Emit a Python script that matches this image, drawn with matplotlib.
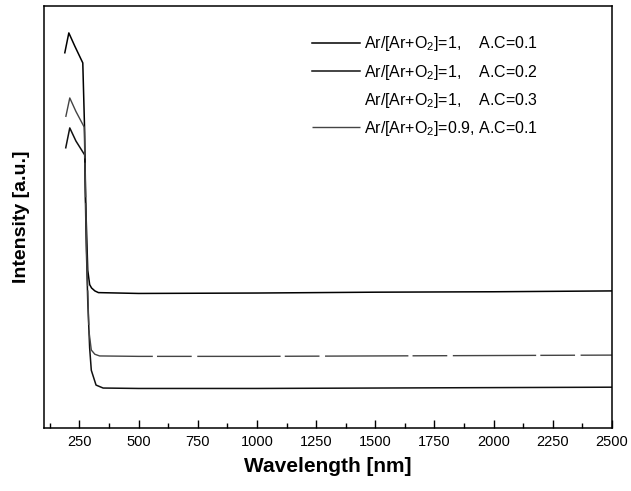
import matplotlib
matplotlib.use('Agg')
import matplotlib.pyplot as plt
from matplotlib.ticker import MultipleLocator, NullLocator

plt.rcParams['font.family'] = ['Liberation Sans', 'DejaVu Sans']
plt.rcParams['mathtext.fontset'] = 'custom'
plt.rcParams['mathtext.rm'] = 'Liberation Sans'
plt.rcParams['mathtext.it'] = 'Liberation Sans'

# wavelength points (nm) and intensity (a.u.)
wl_top = [188, 205, 230, 264, 272, 276, 285, 293, 301, 315, 330, 500, 1000, 1500, 2000, 2500]
int_top = [88.9, 93.6, 90.5, 86.5, 70.0, 54.0, 37.4, 34.0, 33.2, 32.5, 32.1, 31.9, 32.0, 32.2, 32.3, 32.5]

wl_mid = [192, 209, 235, 270, 275, 280, 290, 300, 315, 335, 500, 1000, 1500, 2000, 2500]
int_mid = [73.7, 78.2, 75.0, 71.3, 58.0, 42.0, 23.0, 18.5, 17.5, 17.1, 17.0, 17.0, 17.1, 17.2, 17.3]

wl_bot = [192, 209, 235, 272, 278, 285, 293, 300, 320, 350, 500, 1000, 1500, 2000, 2500]
int_bot = [66.4, 71.1, 68.0, 64.7, 45.0, 30.0, 19.0, 13.7, 10.2, 9.5, 9.4, 9.4, 9.5, 9.6, 9.7]

labels = [
    'Ar/[Ar+O$_2$]=1,    A.C=0.1',
    'Ar/[Ar+O$_2$]=1,    A.C=0.2',
    'Ar/[Ar+O$_2$]=1,    A.C=0.3',
    'Ar/[Ar+O$_2$]=0.9, A.C=0.1',
]

fig = plt.figure(figsize=(6.31, 4.91), dpi=100)
ax = fig.add_axes([0.0697, 0.128, 0.9, 0.860])

ax.plot(wl_top, int_top, color='black', lw=1.1, label=labels[0])
ax.plot(wl_bot, int_bot, color='#111111', lw=1.1, label=labels[1])
ax.plot([], [], color='none', label=labels[2])
ax.plot(wl_mid, int_mid, color='#444444', lw=1.0, linestyle=(0, (60, 3, 25, 4)), label=labels[3])

ax.set_xlim(100, 2500)
ax.set_ylim(0, 100)
ax.xaxis.set_minor_locator(MultipleLocator(125))
ax.set_xticks(range(250, 2501, 250))
ax.yaxis.set_major_locator(NullLocator())
ax.tick_params(axis='x', which='major', direction='in', length=6, width=1, labelsize=10.5, pad=5)
ax.tick_params(axis='x', which='minor', direction='in', length=3.5, width=1)
for s in ax.spines.values():
    s.set_linewidth(1.1)

ax.set_xlabel('Wavelength [nm]', fontsize=15, fontweight='bold', labelpad=6)
ax.set_ylabel('Intensity [a.u.]', fontsize=14, fontweight='bold', labelpad=10)

ax.legend(loc='upper left', bbox_to_anchor=(0.46, 0.948), frameon=False, fontsize=11.5,
          handlelength=3.0, handletextpad=0.3, labelspacing=0.58, borderaxespad=0)

fig.savefig('out.png', dpi=100)
